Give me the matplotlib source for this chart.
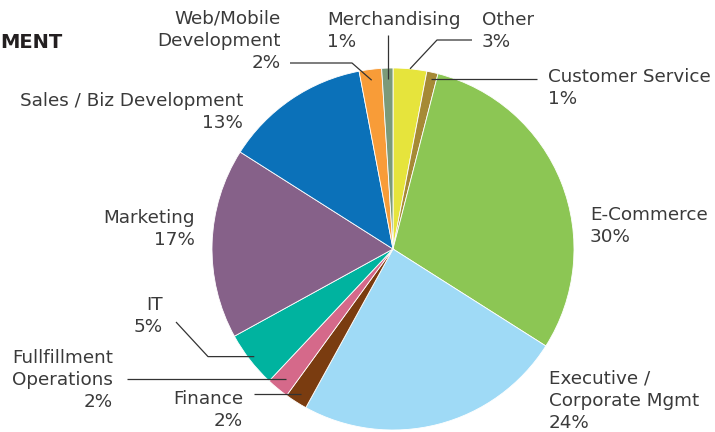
import numpy as np
import matplotlib
matplotlib.use('Agg')
import matplotlib.pyplot as plt

# departments, clockwise from 12 o'clock
labels = ['Other', 'Customer Service', 'E-Commerce', 'Executive /\nCorporate Mgmt',
          'Finance', 'Fullfillment\nOperations', 'IT', 'Marketing',
          'Sales / Biz Development', 'Web/Mobile\nDevelopment', 'Merchandising']
shares = [3, 1, 30, 24, 2, 2, 5, 17, 13, 2, 1]
colors = ['#e6e43c', '#a68a35', '#8cc654', '#9fdaf6', '#7a3c10', '#d5698a',
          '#00b39f', '#866189', '#0b71b9', '#f89c38', '#7b9a79']

W, H = 715, 432
cx, cy, R = 393, 249, 181


def Y(y):
    return H - y


fig = plt.figure(figsize=(W / 100, H / 100), dpi=100)
ax = fig.add_axes([0, 0, 1, 1])
ax.pie(shares, colors=colors, startangle=90, counterclock=False,
       center=(cx, Y(cy)), radius=R,
       wedgeprops=dict(edgecolor='white', linewidth=0.6))
ax.set_xlim(0, W)
ax.set_ylim(0, H)
ax.set_aspect('auto')
ax.axis('off')

# text placement: (x, y of block centre, alignment)
label_pos = {
    'Other': (482, 31, 'left'),
    'Customer Service': (548, 88, 'left'),
    'E-Commerce': (590, 226, 'left'),
    'Executive /\nCorporate Mgmt': (549, 401, 'left'),
    'Finance': (243, 410, 'right'),
    'Fullfillment\nOperations': (113, 380, 'right'),
    'IT': (163, 316, 'right'),
    'Marketing': (195, 229, 'right'),
    'Sales / Biz Development': (243, 112, 'right'),
    'Web/Mobile\nDevelopment': (281, 41, 'right'),
    'Merchandising': (327, 31, 'left'),
}
txt = dict(fontsize=13.2, color='#3a3a3a', family=['DejaVu Sans'],
           linespacing=1.32)
for lab, v in zip(labels, shares):
    x, y, ha = label_pos[lab]
    ax.text(x, Y(y), f'{lab}\n{v}%', ha=ha, va='center', multialignment=ha, **txt)

# leader lines: elbow points then the slice, at fraction of radius
cum = np.cumsum([0] + shares)
mid = {lab: (cum[i] + cum[i + 1]) / 2 / sum(shares) * 2 * np.pi
       for i, lab in enumerate(labels)}
leaders = [
    ('Other', [(472, 40), (437, 40)], 1.0),
    ('Customer Service', [(537, None)], 0.96),
    ('Finance', [(254, None)], 0.95),
    ('Fullfillment\nOperations', [(127, None)], 0.93),
    ('IT', [(176, 322), (208, None)], 0.97),
    ('Web/Mobile\nDevelopment', [(290, 63), (352, 63)], 0.94),
    ('Merchandising', [(None, 35)], 0.94),
]
for lab, pts, f in leaders:
    a = mid[lab]
    ex, ey = cx + f * R * np.sin(a), cy - f * R * np.cos(a)
    xs, ys = [], []
    for px, py in pts:
        xs.append(ex if px is None else px)
        ys.append(ey if py is None else py)
    xs.append(ex)
    ys.append(ey)
    ax.plot(xs, [Y(v) for v in ys], color='#333333', lw=0.9, solid_capstyle='butt')

ax.text(0, Y(42), 'MENT', ha='left', va='center', fontsize=14, fontweight='bold',
        color='#231f20', family=['DejaVu Sans'])

fig.savefig('out.png', dpi=100)
